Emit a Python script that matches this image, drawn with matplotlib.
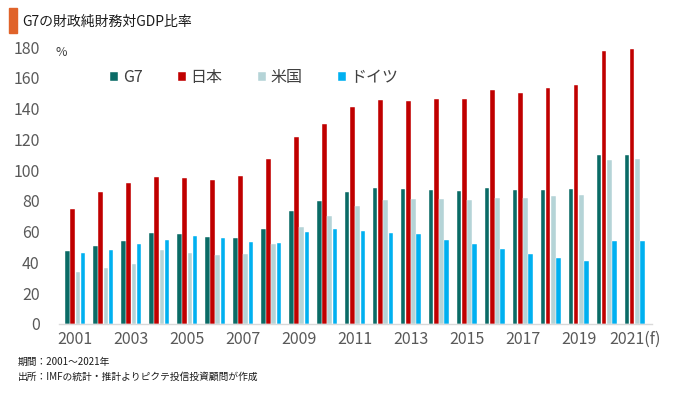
import numpy as np
import matplotlib
matplotlib.use("Agg")
import matplotlib.pyplot as plt
from matplotlib.patches import Rectangle

plt.rcParams['font.family'] = ['Noto Sans CJK JP', 'DejaVu Sans']

years = list(range(2001, 2022))
tick_labels = ['2001', '2003', '2005', '2007', '2009', '2011', '2013',
               '2015', '2017', '2019', '2021(f)']

g7 = [47.4, 50.5, 53.9, 59.1, 58.3, 56.5, 55.9, 61.7, 73.4, 80.1, 85.8,
      88.6, 87.5, 86.9, 86.2, 88.4, 86.9, 87.3, 87.9, 109.6, 109.8]
japan = [74.7, 85.6, 91.4, 95.5, 94.9, 93.8, 96.0, 107.2, 121.5, 130.0, 141.4,
         145.5, 144.9, 146.6, 146.2, 152.0, 149.9, 153.6, 155.1, 177.4, 179.1]
usa = [34.0, 36.2, 39.0, 47.9, 46.3, 45.0, 45.5, 51.8, 62.8, 70.4, 76.9,
       80.6, 81.2, 81.2, 80.6, 81.7, 81.7, 83.2, 83.8, 106.8, 107.4]
germany = [45.9, 48.3, 52.2, 54.6, 57.0, 55.9, 53.3, 52.8, 59.8, 61.9, 60.2,
           59.3, 58.5, 54.6, 52.0, 48.9, 45.3, 42.7, 41.1, 53.9, 53.9]

series = [('G7', g7, '#0a6b66'), ('日本', japan, '#c00000'),
          ('米国', usa, '#b5d4d7'), ('ドイツ', germany, '#00b0f0')]

fig = plt.figure(figsize=(6.8, 3.93), dpi=100)
ax = fig.add_axes([0.0868, 0.1756, 0.8722, 0.7044])

x = np.arange(len(years))
step = 0.185
width = 0.16
for i, (name, vals, color) in enumerate(series):
    ax.bar(x + (i - 1.5) * step, vals, width=width, color=color,
           edgecolor='white', linewidth=0.3, label=name)

ax.set_xlim(-0.58, 20.62)
ax.set_ylim(0, 180)
ax.set_yticks(range(0, 181, 20))
ax.set_xticks(x[::2])
ax.set_xticklabels(tick_labels)
ax.tick_params(axis='both', length=0, labelsize=11.5, colors='#595959')
ax.tick_params(axis='x', pad=5)
ax.tick_params(axis='y', pad=14)
for s in ['top', 'right', 'left']:
    ax.spines[s].set_visible(False)
ax.spines['bottom'].set_color('#d9d9d9')
ax.spines['bottom'].set_linewidth(1.0)

ax.legend(loc='upper left', bbox_to_anchor=(0.086, 0.922), ncol=4,
          frameon=False, fontsize=11.5, handlelength=0.5, handleheight=0.5,
          handletextpad=0.3, columnspacing=2.2, borderaxespad=0, borderpad=0,
          labelcolor='#404040')

fig.text(0.081, 0.866, '%', fontsize=9, color='#404040', va='center')

# title with orange marker
fig.patches.append(Rectangle((0.013, 0.916), 0.012, 0.063,
                             transform=fig.transFigure, color='#e0632a'))
fig.text(0.033, 0.945, 'G7の財政純財務対GDP比率', fontsize=10,
         color='#1a1a1a', va='center')

fig.text(0.026, 0.078, '期間：2001～2021年', fontsize=7, color='#1a1a1a',
         va='center')
fig.text(0.026, 0.040, '出所：IMFの統計・推計よりピクテ投信投資顧問が作成',
         fontsize=7, color='#1a1a1a', va='center')

fig.savefig('out.png', dpi=100)
